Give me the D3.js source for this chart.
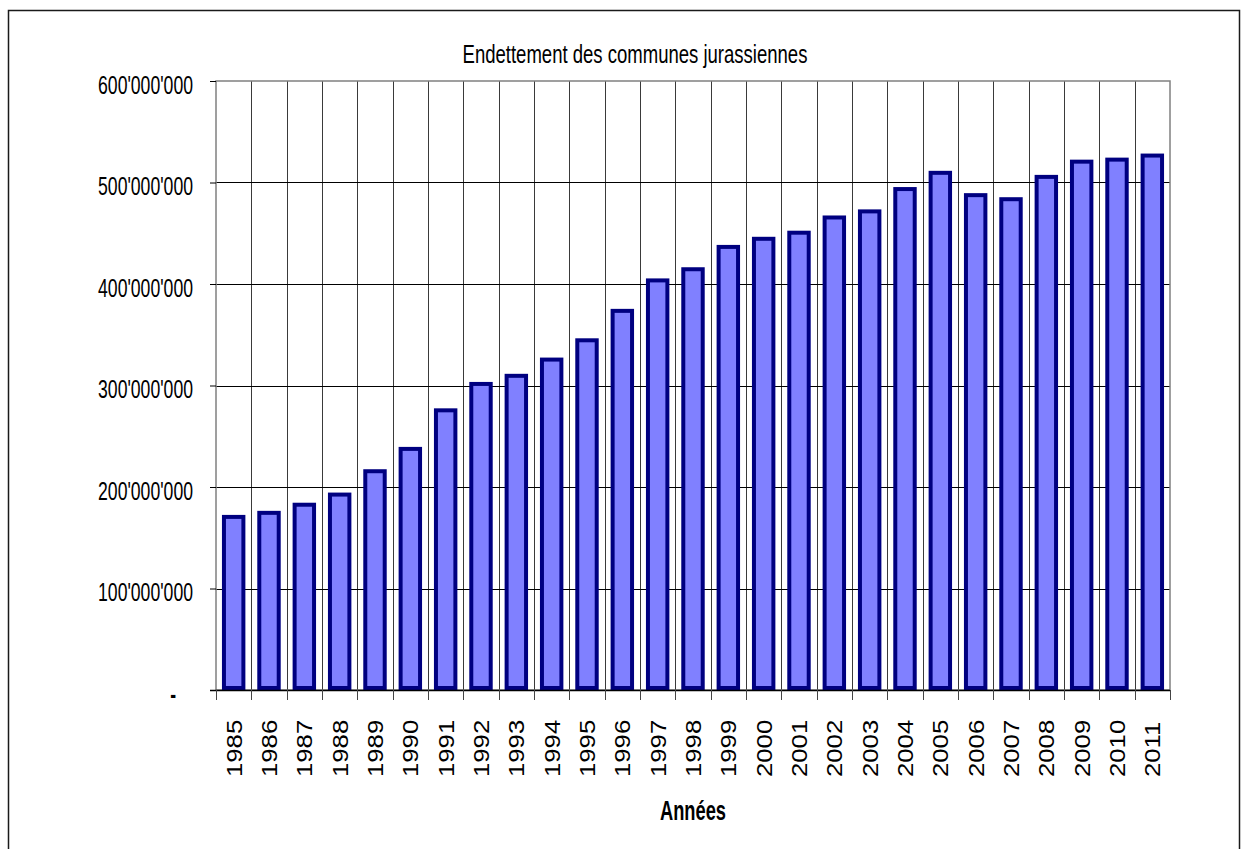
<!DOCTYPE html>
<html lang="fr">
<head>
  <meta charset="utf-8">
  <title>Endettement des communes jurassiennes</title>
  <script src="https://d3js.org/d3.v7.min.js"></script>
  <style type="text/css">
    body { margin: 0; background: #fff; }
    .lbl { font-family: "Liberation Sans", Arial, sans-serif; }
  </style>
</head>
<body>
  <div id="chart"></div>
  <script type="text/javascript">
    // data (francs)
    const years = ["1985", "1986", "1987", "1988", "1989", "1990", "1991", "1992", "1993",
      "1994", "1995", "1996", "1997", "1998", "1999", "2000", "2001", "2002", "2003",
      "2004", "2005", "2006", "2007", "2008", "2009", "2010", "2011"];
    const debt = [173, 177, 185, 195, 218, 240, 278, 304, 312,
      328, 347, 376, 406, 417, 439, 447, 453, 468, 474,
      496, 512, 490, 486, 508, 523, 525, 529].map(v => v * 1e6);
    const yTicks = [0, 100e6, 200e6, 300e6, 400e6, 500e6, 600e6];
    const title = "Endettement des communes jurassiennes";
    const xTitle = "Années";

    const w = 1250;
    const h = 849;
    const pLeft = 216, pRight = 1170, pTop = 81, pBottom = 690;
    // the source looks like a condensed font, stretched a little vertically
    const narrowX = 0.82;

    const svg = d3.select("#chart")
      .append("svg")
      .attr("width", w)
      .attr("height", h);

    // outer frame
    svg.append("rect")
      .attr("x", 8.5)
      .attr("y", 10.5)
      .attr("width", 1231)
      .attr("height", 900)
      .attr("fill", "none")
      .attr("stroke", "#1a1a1a")
      .attr("stroke-width", 1.5);

    const xScale = d3.scaleBand()
      .domain(years)
      .range([pLeft, pRight])
      .paddingInner(0)
      .paddingOuter(0);

    const yScale = d3.scaleLinear()
      .domain([0, 600e6])
      .range([pBottom, pTop]);

    // vertical grid lines at category boundaries
    const bounds = years.map(d => xScale(d)).concat([pRight]);
    svg.append("g")
      .selectAll("line")
      .data(bounds.slice(1, -1))
      .enter()
      .append("line")
      .attr("x1", d => Math.round(d) + 0.5)
      .attr("x2", d => Math.round(d) + 0.5)
      .attr("y1", pTop)
      .attr("y2", pBottom)
      .attr("stroke", "#3a3a3a")
      .attr("stroke-width", 1);

    // horizontal grid lines
    svg.append("g")
      .selectAll("line")
      .data(yTicks.slice(1, -1))
      .enter()
      .append("line")
      .attr("x1", pLeft)
      .attr("x2", pRight)
      .attr("y1", d => Math.round(yScale(d)) + 0.5)
      .attr("y2", d => Math.round(yScale(d)) + 0.5)
      .attr("stroke", "#000")
      .attr("stroke-width", 1.2);

    // plot border
    svg.append("rect")
      .attr("x", pLeft)
      .attr("y", pTop)
      .attr("width", pRight - pLeft)
      .attr("height", pBottom - pTop)
      .attr("fill", "none")
      .attr("stroke", "#808080")
      .attr("stroke-width", 1.5);

    // bars
    const barW = xScale.bandwidth() * 0.55;
    svg.append("g")
      .selectAll("rect")
      .data(years)
      .enter()
      .append("rect")
      .attr("x", d => xScale(d) + (xScale.bandwidth() - barW) / 2)
      .attr("y", (d, i) => yScale(debt[i]) + 2.5)
      .attr("width", barW)
      .attr("height", (d, i) => yScale(0) - yScale(debt[i]) - 4.5)
      .attr("fill", "#8080ff")
      .attr("stroke", "#000080")
      .attr("stroke-width", 4);

    // x axis line and ticks
    svg.append("line")
      .attr("x1", pLeft - 6)
      .attr("x2", pRight)
      .attr("y1", pBottom + 0.5)
      .attr("y2", pBottom + 0.5)
      .attr("stroke", "#000")
      .attr("stroke-width", 1.3);

    svg.append("g")
      .selectAll("line")
      .data(bounds)
      .enter()
      .append("line")
      .attr("x1", d => Math.round(d) + 0.5)
      .attr("x2", d => Math.round(d) + 0.5)
      .attr("y1", pBottom)
      .attr("y2", pBottom + 10)
      .attr("stroke", "#444");

    // y axis
    const fmt = v => v === 0 ? "-" : d3.format(",")(v).replace(/,/g, "'");
    const leftAxis = d3.axisLeft(yScale)
      .tickValues(yTicks)
      .tickSize(6)
      .tickFormat(fmt);

    const yAxis = svg.append("g")
      .attr("transform", "translate(" + pLeft + ",0)")
      .call(leftAxis);
    yAxis.select(".domain").remove();
    yAxis.selectAll(".tick line").attr("stroke", "#000");
    yAxis.selectAll(".tick text")
      .attr("class", "lbl")
      .attr("x", 0)
      .attr("dy", null)
      .attr("transform", d => (d === 0 ? "translate(-40,12)" : "translate(-23,12)") + ` scale(${narrowX},1.17)`)
      .style("font-size", "21.5px")
      .style("font-weight", d => d === 0 ? "bold" : "normal")
      .attr("fill", "#000")
      .attr("text-anchor", "end");

    // x labels (rotated)
    svg.append("g")
      .selectAll("text")
      .data(years)
      .enter()
      .append("text")
      .attr("class", "lbl")
      .attr("transform", d => `translate(${xScale(d) + xScale.bandwidth() / 2 + 8},777) rotate(-90) scale(1.17,1)`)
      .style("font-size", "22px")
      .attr("text-anchor", "start")
      .text(d => d);

    // title
    svg.append("text")
      .attr("class", "lbl")
      .attr("transform", `translate(635,63) scale(${narrowX},1.13)`)
      .style("font-size", "22.6px")
      .style("text-anchor", "middle")
      .text(title);

    // axis title
    svg.append("text")
      .attr("class", "lbl")
      .attr("transform", `translate(693,820) scale(${narrowX},1.2)`)
      .style("font-size", "22.3px")
      .style("font-weight", "bold")
      .style("text-anchor", "middle")
      .text(xTitle);
  </script>
</body>
</html>
